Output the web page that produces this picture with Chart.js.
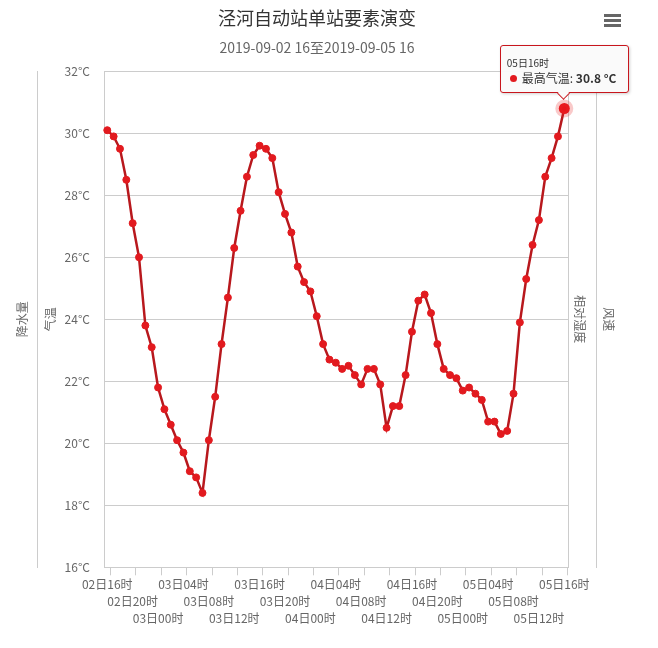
<!DOCTYPE html>
<html>
<head>
<meta charset="utf-8">
<title>泾河自动站单站要素演变</title>
<script src="https://cdn.jsdelivr.net/npm/chart.js@4.4.1/dist/chart.umd.min.js"></script>
<style>
html,body{margin:0;padding:0;background:#fff;}
#box{position:relative;width:658px;height:648px;overflow:hidden;}
#c{display:block;}
#menu{position:absolute;left:604px;top:14px;width:17px;}
#menu i{display:block;height:3px;background:#666;margin-bottom:2px;}
#tip{position:absolute;display:none;box-sizing:border-box;width:129px;height:48px;padding:10px 6px 0 6px;background:rgba(250,250,250,.96);border:1px solid #c8161d;border-radius:3px;box-shadow:1px 1px 3px rgba(0,0,0,.18);font-family:'Noto Sans CJK SC',sans-serif;color:#333;white-space:nowrap;}
#tip .tt{font-size:10px;line-height:14px;}
#tip .tb{font-size:12px;line-height:16px;}
#tip .dot{display:inline-block;width:7px;height:7px;border-radius:50%;background:#e21a1f;margin:0 5px 0 3px;vertical-align:1px;}
#tip .tv{font-weight:bold;}
#tip:after{content:'';position:absolute;left:58px;bottom:-6px;width:8px;height:8px;background:#fafafa;border-right:1px solid #c8161d;border-bottom:1px solid #c8161d;transform:rotate(45deg);}
</style>
</head>
<body>
<div id="box">
  <canvas id="c" width="658" height="648"></canvas>
  <div id="menu"><i></i><i></i><i></i></div>
  <div id="tip"><div class="tt"></div><div class="tb"><span class="dot"></span><span class="tn"></span><span class="tv"></span></div></div>
</div>
<script>
const chartTitle = '泾河自动站单站要素演变';
const chartSubtitle = '2019-09-02 16至2019-09-05 16';
const seriesName = '最高气温';
const rainTitle = '降水量', tempTitle = '气温', humTitle = '相对湿度', windTitle = '风速';

const categories = [
  '02日16时','02日17时','02日18时','02日19时','02日20时','02日21时','02日22时','02日23时',
  '03日00时','03日01时','03日02时','03日03时','03日04时','03日05时','03日06时','03日07时',
  '03日08时','03日09时','03日10时','03日11时','03日12时','03日13时','03日14时','03日15时',
  '03日16时','03日17时','03日18时','03日19时','03日20时','03日21时','03日22时','03日23时',
  '04日00时','04日01时','04日02时','04日03时','04日04时','04日05时','04日06时','04日07时',
  '04日08时','04日09时','04日10时','04日11时','04日12时','04日13时','04日14时','04日15时',
  '04日16时','04日17时','04日18时','04日19时','04日20时','04日21时','04日22时','04日23时',
  '05日00时','05日01时','05日02时','05日03时','05日04时','05日05时','05日06时','05日07时',
  '05日08时','05日09时','05日10时','05日11时','05日12时','05日13时','05日14时','05日15时',
  '05日16时'
];
const temps = [
  30.1,29.9,29.5,28.5,27.1,26.0,23.8,23.1,
  21.8,21.1,20.6,20.1,19.7,19.1,18.9,18.4,
  20.1,21.5,23.2,24.7,26.3,27.5,28.6,29.3,
  29.6,29.5,29.2,28.1,27.4,26.8,25.7,25.2,
  24.9,24.1,23.2,22.7,22.6,22.4,22.5,22.2,
  21.9,22.4,22.4,21.9,20.5,21.2,21.2,22.2,
  23.6,24.6,24.8,24.2,23.2,22.4,22.2,22.1,
  21.7,21.8,21.6,21.4,20.7,20.7,20.3,20.4,
  21.6,23.9,25.3,26.4,27.2,28.6,29.2,29.9,
  30.8
];
const tempTicks = [16,18,20,22,24,26,28,30,32];
const labelEvery = 4;

const grey = '#cccccc';
const lineRed = '#b8181d';
const dotRed = '#e21a1f';

Chart.defaults.font.family = "'Noto Sans CJK SC', sans-serif";
Chart.defaults.color = '#666';

// label ticks on every 4th hour, tick marks half an hour later (like the original)
const xTickValues = [];
for (let i = 0; i < categories.length; i += labelEvery) { xTickValues.push(i, i + 0.5); }

function fixW(w){ return s => { s.width = w; }; }

function sideAxis(pos, weight, text, w, pad){
  return {
    type:'linear', position:pos, weight:weight, display:true, min:0, max:1,
    ticks:{display:false},
    grid:{drawOnChartArea:false, drawTicks:false},
    border:{display:true, color:grey, width:1},
    title:{display:true, text:text, color:'#666', font:{size:12}, padding:{top:pad, bottom:0}},
    afterFit: fixW(w)
  };
}

function externalTip(ctx){
  const tip = ctx.tooltip;
  const el = document.getElementById('tip');
  if (tip.opacity === 0 || !tip.dataPoints || !tip.dataPoints.length) { el.style.display = 'none'; return; }
  const dp = tip.dataPoints[0];
  el.querySelector('.tt').textContent = categories[dp.dataIndex];
  el.querySelector('.tn').textContent = dp.dataset.label + ': ';
  el.querySelector('.tv').textContent = dp.parsed.y.toFixed(1) + ' °C';
  el.style.display = 'block';
  el.style.left = (tip.caretX - el.offsetWidth / 2) + 'px';
  el.style.top = (tip.caretY - el.offsetHeight - 16) + 'px';
}

const chart = new Chart(document.getElementById('c'), {
  type:'line',
  data:{
    datasets:[{
      label: seriesName,
      data: temps.map((v,i) => ({x:i, y:v})),
      xAxisID:'x', yAxisID:'y',
      borderColor: lineRed, borderWidth: 2.5, tension: 0, clip: false,
      pointRadius: 3.5, pointBorderWidth: 1, pointBorderColor: dotRed, pointBackgroundColor: dotRed,
      pointHoverRadius: 5.5, pointHoverBackgroundColor: '#e8141b',
      pointHoverBorderColor: 'rgba(232,40,40,0.25)', pointHoverBorderWidth: 7
    }]
  },
  options:{
    responsive:false, animation:false, events:[],
    transitions:{active:{animation:{duration:0}}},
    layout:{padding:{left:0, right:24, top:0, bottom:20.7}},
    plugins:{
      legend:{display:false},
      title:{display:true, text:chartTitle, color:'#333', font:{size:18, weight:'normal'}, padding:{top:7.7, bottom:0}},
      subtitle:{display:true, text:chartSubtitle, color:'#666', font:{size:14, weight:'normal'}, padding:{top:10.3, bottom:14.9}},
      tooltip:{enabled:false, external: externalTip}
    },
    scales:{
      x:{
        type:'linear', min:-0.47, max:72.63,
        afterBuildTicks: s => { s.ticks = xTickValues.map(v => ({value:v})); },
        ticks:{
          autoSkip:false, maxRotation:0, minRotation:0, padding:0, color:'#666',
          font:{size:12, lineHeight:'17.3px'},
          callback: v => {
            if (v % labelEvery !== 0) return '';
            const rows = ['','',''];
            rows[(v / labelEvery) % 3] = categories[v];
            return rows;
          }
        },
        grid:{drawOnChartArea:false, drawTicks:true, tickLength:8,
          tickColor: c => (c.tick && c.tick.value % 1 !== 0) ? grey : 'rgba(0,0,0,0)'},
        border:{display:true, color:grey},
        afterFit: s => { s.height = 60; }
      },
      y:{
        type:'linear', position:'left', weight:0, min:16, max:32,
        afterBuildTicks: s => { s.ticks = tempTicks.map(v => ({value:v})); },
        ticks:{padding:14.3, font:{size:12}, color:'#666', callback: v => v + '°C'},
        grid:{color:grey, drawTicks:false},
        border:{display:true, color:grey},
        title:{display:true, text:tempTitle, color:'#666', font:{size:12}, padding:{top:5.8, bottom:0}},
        afterFit: fixW(67.3)
      },
      yRain: sideAxis('left', 1, rainTitle, 37, 15.5),
      yHum: sideAxis('right', 0, humTitle, 27.7, 9.3),
      yWind: sideAxis('right', 1, windTitle, 38, 18.3)
    }
  }
});

const last = temps.length - 1;
const pt = chart.getDatasetMeta(0).data[last];
chart.setActiveElements([{datasetIndex:0, index:last}]);
chart.tooltip.setActiveElements([{datasetIndex:0, index:last}], {x:pt.x, y:pt.y});
chart.render();
</script>
</body>
</html>
